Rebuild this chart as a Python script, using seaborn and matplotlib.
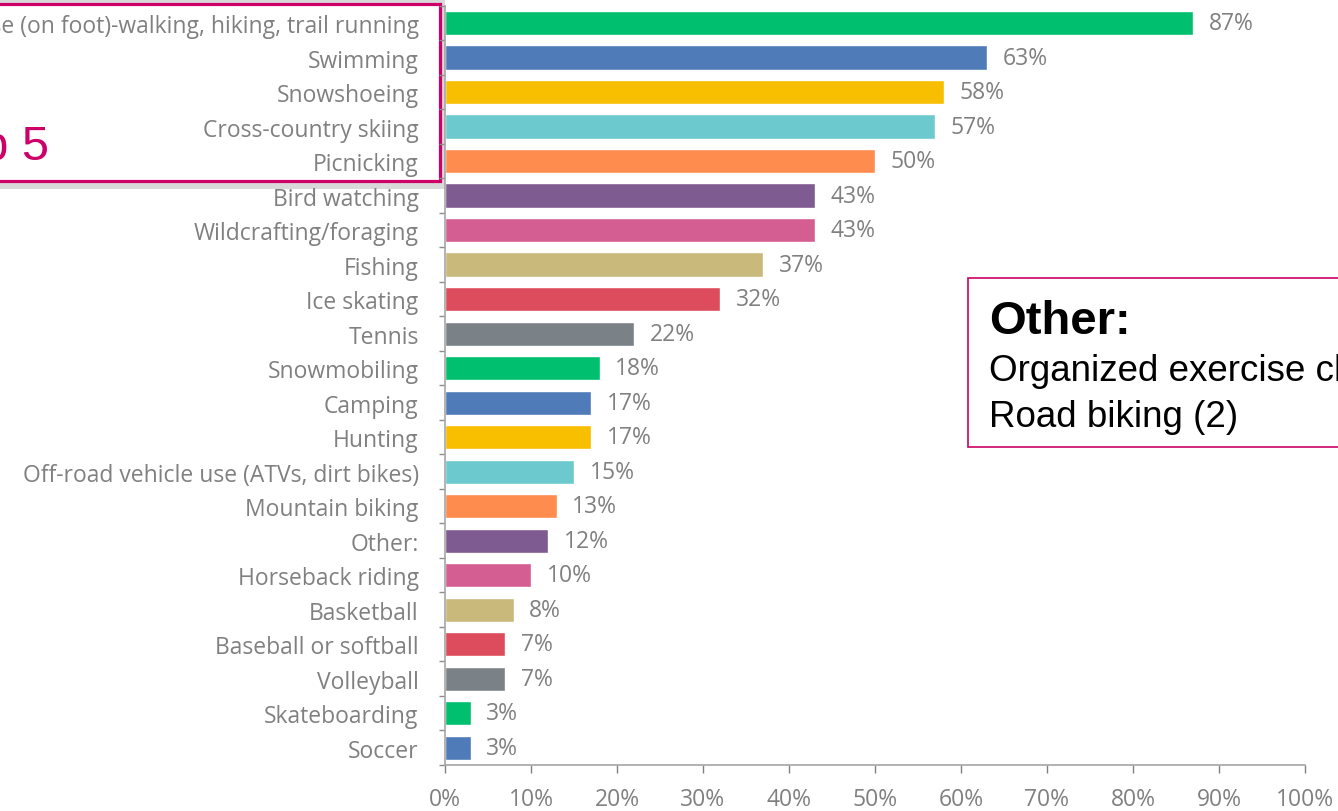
import matplotlib.pyplot as plt
import seaborn as sns
import pandas as pd
from matplotlib.patches import Rectangle

# Data
activities = [
    'Trail use (on foot)-walking, hiking, trail running',
    'Swimming', 'Snowshoeing', 'Cross-country skiing', 'Picnicking',
    'Bird watching', 'Wildcrafting/foraging', 'Fishing', 'Ice skating',
    'Tennis', 'Snowmobiling', 'Camping', 'Hunting',
    'Off-road vehicle use (ATVs, dirt bikes)', 'Mountain biking', 'Other:',
    'Horseback riding', 'Basketball', 'Baseball or softball', 'Volleyball',
    'Skateboarding', 'Soccer',
]
percents = [87, 63, 58, 57, 50, 43, 43, 37, 32, 22, 18, 17, 17, 15, 13, 12,
            10, 8, 7, 7, 3, 3]
base_colors = ['#00BF6F', '#4F7CB8', '#F8BE00', '#6CC9CE', '#FF8C4F',
               '#7E5B91', '#D45E91', '#C9B97A', '#DC4C5D', '#7A8288']
other_lines = ['Organized exercise classes', 'Road biking (2)']

df = pd.DataFrame({'activity': activities, 'pct': percents})
palette = [base_colors[i % len(base_colors)] for i in range(len(activities))]

gray = '#808080'
magenta = '#CC0066'
fs = 16.5

sns.set_style('white')
plt.rcParams['font.family'] = ['Open Sans', 'DejaVu Sans']

fig = plt.figure(figsize=(13.38, 8.12), dpi=100)
ax = fig.add_axes([0.3326, 0.0567, 0.6427, 0.935])

sns.barplot(data=df, x='pct', y='activity', hue='activity', palette=palette,
            legend=False, width=0.7, saturation=1, ax=ax)

for i, v in enumerate(percents):
    ax.text(v + 1.8, i, f'{v}%', va='center', ha='left', fontsize=fs, color=gray)

ax.set_xlim(0, 100)
ax.set_xticks(range(0, 101, 10))
ax.set_xticklabels([f'{t}%' for t in range(0, 101, 10)])
ax.set_yticks([i - 0.5 for i in range(len(activities) + 1)], minor=True)
ax.set_xlabel('')
ax.set_ylabel('')
ax.tick_params(axis='x', colors=gray, labelsize=fs, length=6, width=1,
               direction='out', pad=10, bottom=True)
ax.tick_params(axis='y', which='major', colors=gray, labelsize=fs, length=0, pad=19)
ax.tick_params(axis='y', which='minor', color='#8C8C8C', length=4, width=1,
               direction='out', left=True)
for side in ['top', 'right']:
    ax.spines[side].set_visible(False)
for side in ['left', 'bottom']:
    ax.spines[side].set_color('#A6A6A6')
    ax.spines[side].set_linewidth(1.2)

# Top 5 box (extends past the left edge), with a soft shadow
shadow = Rectangle((-0.05, 1 - 190 / 812), (445 + 67) / 1338, 190 / 812,
                   transform=fig.transFigure, facecolor='#D9D9D9',
                   edgecolor='none', zorder=-3)
fig.patches.append(shadow)
box = Rectangle((-0.05, 1 - 182 / 812), (440 + 67) / 1338, 177 / 812,
                transform=fig.transFigure, facecolor='white', edgecolor=magenta,
                linewidth=2.3, zorder=-2)
fig.patches.append(box)
fig.text(49 / 1338, 1 - 147 / 812, 'Top 5', color=magenta, fontsize=35,
         family='Liberation Sans', va='center', ha='right')

# Other box
obox = Rectangle((968 / 1338, 1 - 448 / 812), 0.4, 169 / 812, transform=fig.transFigure,
                 facecolor='white', edgecolor=magenta, linewidth=1.2, zorder=5)
fig.patches.append(obox)
fig.text(989 / 1338, 1 - 322 / 812, 'Other:', fontsize=34, fontweight='bold',
         family='Liberation Sans', va='center', ha='left', color='black', zorder=6)
fig.text(989 / 1338, 1 - 372 / 812, other_lines[0], fontsize=26.5,
         family='Liberation Sans', va='center', ha='left', color='black', zorder=6)
fig.text(989 / 1338, 1 - 418 / 812, other_lines[1], fontsize=26.5,
         family='Liberation Sans', va='center', ha='left', color='black', zorder=6)

fig.savefig('out.png', dpi=100)
